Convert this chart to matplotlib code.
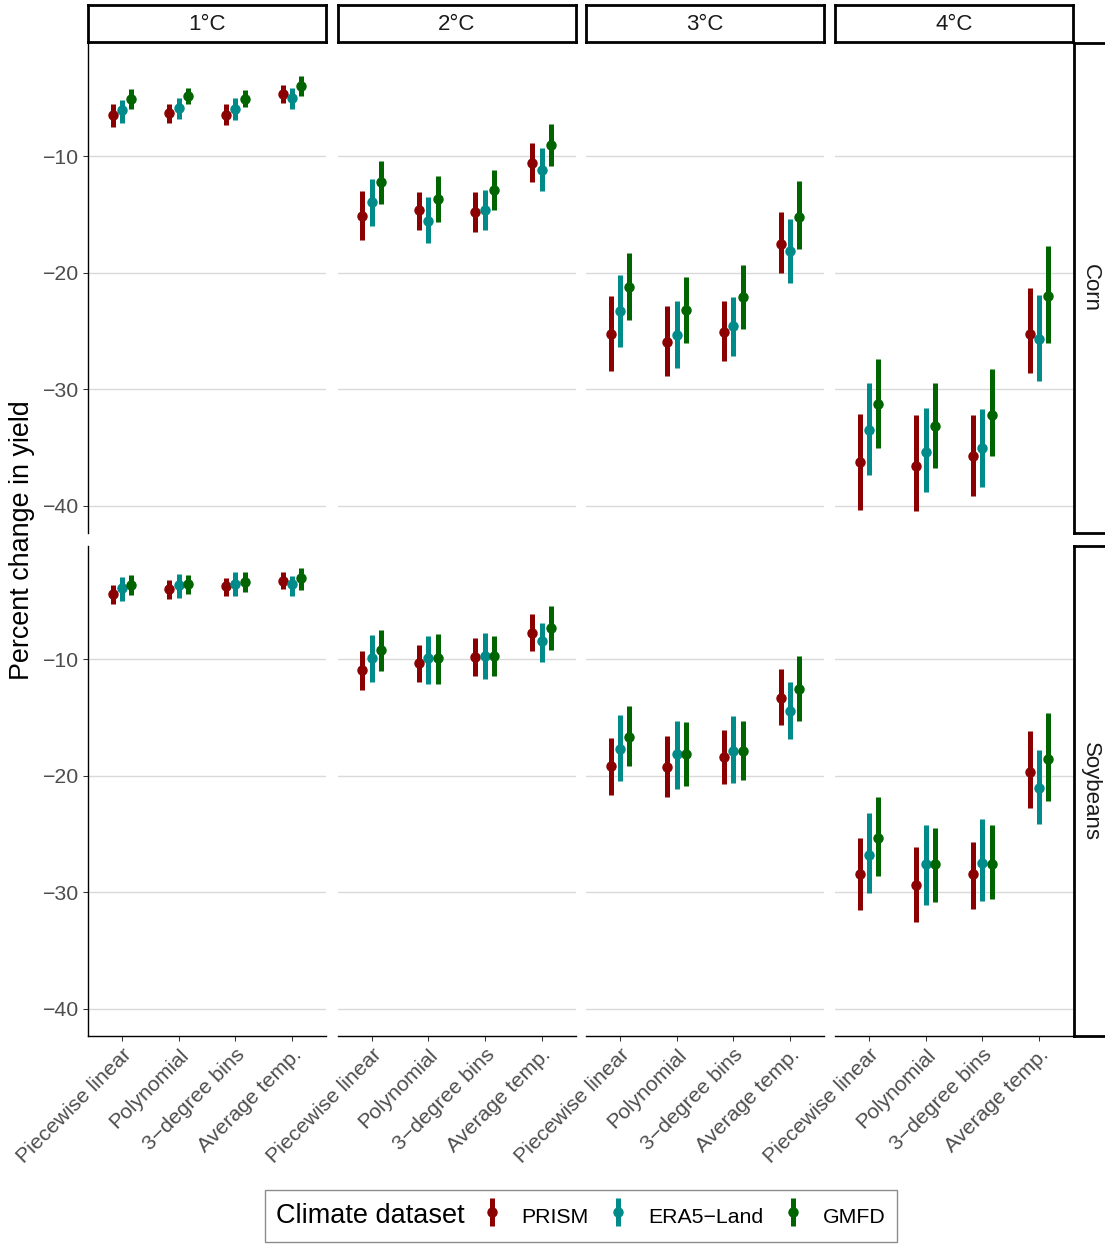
import matplotlib
matplotlib.use("Agg")
import matplotlib.pyplot as plt
import numpy as np
from matplotlib.legend_handler import HandlerErrorbar
from matplotlib.offsetbox import HPacker

plt.rcParams["font.family"] = ["Liberation Sans", "DejaVu Sans"]

# facets, models and datasets
warming = ["1°C", "2°C", "3°C", "4°C"]
crops = ["Corn", "Soybeans"]
models = ["Piecewise linear", "Polynomial", "3−degree bins", "Average temp."]
datasets = ["PRISM", "ERA5−Land", "GMFD"]
colors = ["#8B0000", "#008B8B", "#006400"]

# percent change in yield, [warming][model][PRISM, ERA5-Land, GMFD]
corn_est = [
    [[-6.49, -6.08, -5.06], [-6.28, -5.86, -4.86], [-6.43, -5.91, -5.06], [-4.65, -5.03, -3.97]],
    [[-15.11, -13.97, -12.25], [-14.63, -15.54, -13.65], [-14.77, -14.60, -12.88], [-10.60, -11.17, -9.08]],
    [[-25.28, -23.25, -21.19], [-25.94, -25.34, -23.20], [-25.05, -24.57, -22.11], [-17.57, -18.14, -15.20]],
    [[-36.28, -33.48, -31.22], [-36.56, -35.42, -33.19], [-35.76, -35.02, -32.19], [-25.25, -25.71, -22.00]],
]
corn_lo = [
    [[-7.46, -7.14, -5.94], [-7.17, -6.80, -5.54], [-7.29, -6.86, -5.77], [-5.43, -5.94, -4.80]],
    [[-17.17, -16.00, -14.08], [-16.31, -17.45, -15.66], [-16.48, -16.37, -14.60], [-12.20, -12.97, -10.86]],
    [[-28.42, -26.37, -24.08], [-28.82, -28.19, -25.99], [-27.57, -27.14, -24.79], [-20.05, -20.88, -17.97]],
    [[-40.33, -37.36, -35.05], [-40.42, -38.85, -36.76], [-39.13, -38.42, -35.73], [-28.60, -29.25, -25.99]],
]
corn_hi = [
    [[-5.49, -5.14, -4.22], [-5.51, -5.00, -4.14], [-5.49, -5.03, -4.28], [-3.88, -4.14, -3.14]],
    [[-13.00, -11.94, -10.45], [-13.05, -13.51, -11.71], [-13.08, -12.94, -11.17], [-8.89, -9.28, -7.28]],
    [[-22.00, -20.22, -18.31], [-22.88, -22.42, -20.34], [-22.42, -22.05, -19.37], [-14.80, -15.37, -12.17]],
    [[-32.08, -29.42, -27.42], [-32.22, -31.60, -29.48], [-32.22, -31.70, -28.28], [-21.34, -21.94, -17.71]],
]
soy_est = [
    [[-4.37, -3.92, -3.60], [-4.00, -3.66, -3.54], [-3.74, -3.51, -3.37], [-3.28, -3.54, -3.06]],
    [[-10.94, -9.91, -9.25], [-10.37, -9.91, -9.91], [-9.77, -9.71, -9.74], [-7.77, -8.46, -7.31]],
    [[-19.19, -17.68, -16.65], [-19.25, -18.11, -18.11], [-18.40, -17.85, -17.91], [-13.31, -14.46, -12.54]],
    [[-28.45, -26.76, -25.30], [-29.39, -27.60, -27.60], [-28.45, -27.45, -27.60], [-19.68, -21.02, -18.54]],
]
soy_lo = [
    [[-5.23, -5.00, -4.48], [-4.86, -4.74, -4.40], [-4.60, -4.57, -4.23], [-4.00, -4.57, -4.05]],
    [[-12.66, -11.97, -11.03], [-11.94, -12.14, -12.14], [-11.43, -11.71, -11.46], [-9.28, -10.26, -9.25]],
    [[-21.62, -20.42, -19.19], [-21.79, -21.14, -20.91], [-20.71, -20.59, -20.37], [-15.62, -16.86, -15.34]],
    [[-31.53, -30.10, -28.60], [-32.56, -31.05, -30.87], [-31.42, -30.79, -30.59], [-22.77, -24.14, -22.20]],
]
soy_hi = [
    [[-3.60, -2.91, -2.77], [-3.23, -2.72, -2.77], [-3.00, -2.51, -2.51], [-2.51, -2.83, -2.20]],
    [[-9.31, -7.91, -7.51], [-8.77, -7.97, -7.82], [-8.20, -7.74, -8.00], [-6.14, -6.88, -5.46]],
    [[-16.77, -14.77, -14.05], [-16.62, -15.31, -15.37], [-16.08, -14.85, -15.31], [-10.80, -11.94, -9.71]],
    [[-25.36, -23.20, -21.83], [-26.14, -24.19, -24.48], [-25.70, -23.74, -24.19], [-16.20, -17.80, -14.63]],
]

W, H = 1105, 1245
fig = plt.figure(figsize=(W / 100, H / 100), dpi=100)


def px_axes(x0, y0, x1, y1):
    return fig.add_axes([x0 / W, 1 - y1 / H, (x1 - x0) / W, (y1 - y0) / H])


def strip(ax):
    ax.set_xticks([])
    ax.set_yticks([])
    for sp in ax.spines.values():
        sp.set_linewidth(2.0)
        sp.set_color("black")


col_x = [88, 337.5, 586, 835]
panel_w = 238
row_y = [43, 546]
panel_h = 490

xpos = np.arange(1, len(models) + 1)
dodge = [-1 / 6, 0, 1 / 6]

lows = np.concatenate([np.ravel(corn_lo), np.ravel(soy_lo)])
highs = np.concatenate([np.ravel(corn_hi), np.ravel(soy_hi)])
span = highs.max() - lows.min()
ylim = (lows.min() - 0.05 * span, highs.max() + 0.05 * span)

tick_kw = dict(direction="out", length=3.6, width=0.75, color="#333333",
               labelsize=15.3, labelcolor="#4D4D4D", pad=3)

handles = []
rows = [(corn_est, corn_lo, corn_hi), (soy_est, soy_lo, soy_hi)]
for r, (est, lo, hi) in enumerate(rows):
    for c in range(len(warming)):
        ax = px_axes(col_x[c], row_y[r], col_x[c] + panel_w, row_y[r] + panel_h)
        e = np.array(est[c])
        l = np.array(lo[c])
        h = np.array(hi[c])
        for k in range(len(datasets)):
            cont = ax.errorbar(xpos + dodge[k], e[:, k],
                               yerr=[e[:, k] - l[:, k], h[:, k] - e[:, k]],
                               fmt="o", color=colors[k], ms=6.5, elinewidth=3.6,
                               capsize=0, zorder=3)
            if r == 0 and c == 0:
                handles.append(cont)
        ax.set_xlim(0.4, 4.6)
        ax.set_ylim(ylim)
        ax.set_yticks([-10, -20, -30, -40])
        ax.set_xticks(xpos)
        ax.yaxis.grid(True, color="#D9D9D9", lw=1.0)
        ax.set_axisbelow(True)
        for sp in ["top", "right"]:
            ax.spines[sp].set_visible(False)
        ax.spines["left"].set_visible(c == 0)
        ax.spines["bottom"].set_visible(r == 1)
        for sp in ["left", "bottom"]:
            ax.spines[sp].set_linewidth(1.0)
        ax.tick_params(axis="both", **tick_kw)
        ax.tick_params(axis="y", left=(c == 0), labelleft=(c == 0))
        if r == 1:
            ax.set_xticklabels(models, rotation=45, ha="right", va="top",
                               rotation_mode="anchor")
        else:
            ax.tick_params(axis="x", bottom=False, labelbottom=False)

for c, lab in enumerate(warming):
    s = px_axes(col_x[c], 5, col_x[c] + panel_w, 42)
    strip(s)
    s.text(0.5, 0.47, lab, ha="center", va="center", fontsize=16,
           color="#1A1A1A", transform=s.transAxes)

for r, lab in enumerate(crops):
    s = px_axes(1074, row_y[r], 1111, row_y[r] + panel_h)
    strip(s)
    s.text(0.45, 0.5, lab, ha="center", va="center", fontsize=16,
           rotation=-90, color="#1A1A1A", transform=s.transAxes)

fig.text(22 / W, 1 - 540 / H, "Percent change in yield", rotation=90,
         ha="center", va="center", fontsize=19.4)

leg = fig.legend(handles, datasets, loc="upper center",
                 bbox_to_anchor=(581 / W, 1 - 1179 / H), ncol=3,
                 title="Climate dataset", title_fontsize=19.5, fontsize=15.3,
                 frameon=True, fancybox=False, edgecolor="#8C8C8C",
                 framealpha=1, handlelength=0.8, handleheight=1.7,
                 handletextpad=1.0, columnspacing=1.0, borderpad=0.55,
                 handler_map={type(handles[0]): HandlerErrorbar(yerr_size=0.65)})
leg.get_frame().set_linewidth(1.0)
# put the legend title to the left of the keys, like ggplot
old = leg._legend_box
box = HPacker(pad=old.pad, sep=13, align="center",
              children=[leg._legend_title_box, leg._legend_handle_box])
box.set_figure(fig)
box.axes = leg.axes
leg._legend_box = box
leg.set_loc("upper center")

fig.savefig("out.png", dpi=100)
